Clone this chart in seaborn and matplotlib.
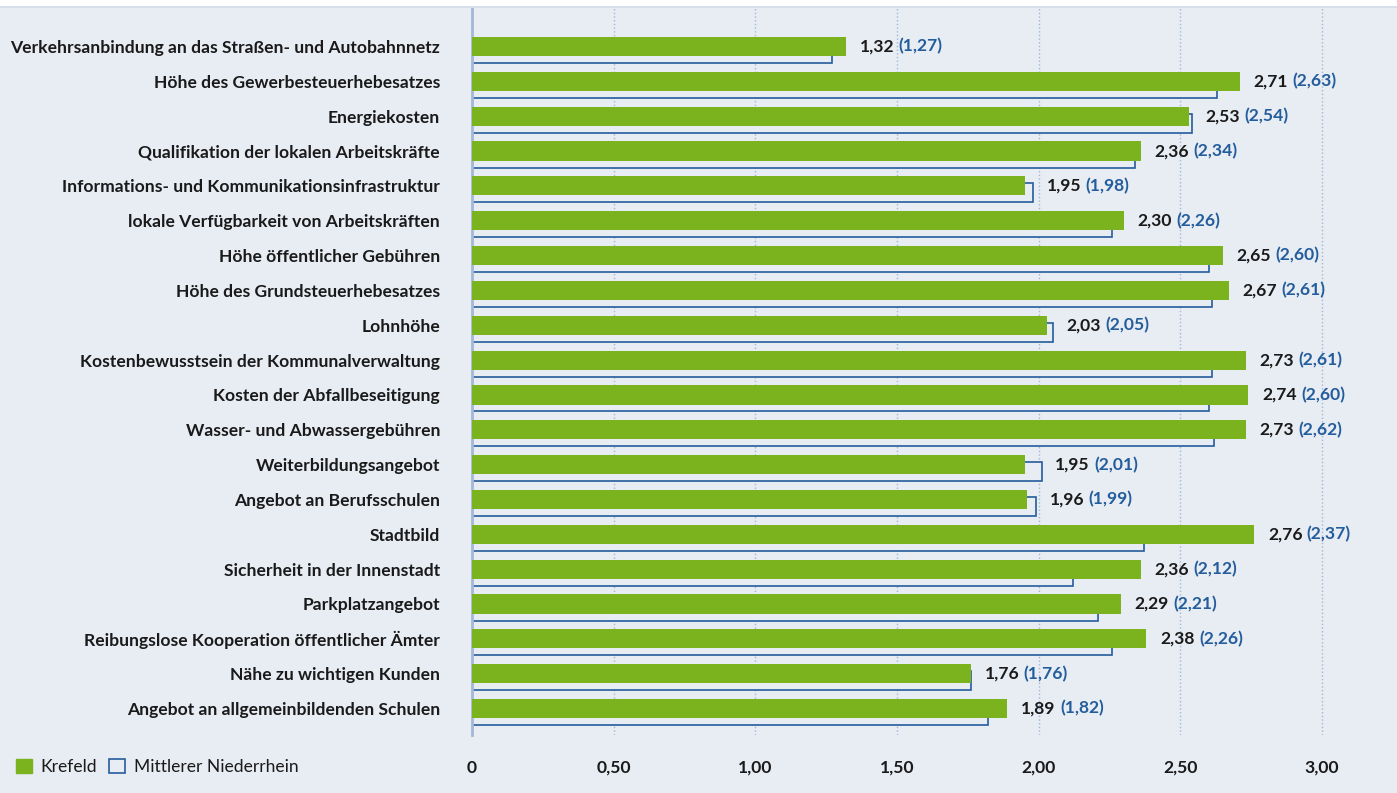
import matplotlib.pyplot as plt
import numpy as np
import seaborn as sns
from matplotlib.patches import Patch, Rectangle

# Data
factors = ['Verkehrsanbindung an das Straßen- und Autobahnnetz',
           'Höhe des Gewerbesteuerhebesatzes',
           'Energiekosten',
           'Qualifikation der lokalen Arbeitskräfte',
           'Informations- und Kommunikationsinfrastruktur',
           'lokale Verfügbarkeit von Arbeitskräften',
           'Höhe öffentlicher Gebühren',
           'Höhe des Grundsteuerhebesatzes',
           'Lohnhöhe',
           'Kostenbewusstsein der Kommunalverwaltung',
           'Kosten der Abfallbeseitigung',
           'Wasser- und Abwassergebühren',
           'Weiterbildungsangebot',
           'Angebot an Berufsschulen',
           'Stadtbild',
           'Sicherheit in der Innenstadt',
           'Parkplatzangebot',
           'Reibungslose Kooperation öffentlicher Ämter',
           'Nähe zu wichtigen Kunden',
           'Angebot an allgemeinbildenden Schulen']
krefeld = [1.32, 2.71, 2.53, 2.36, 1.95, 2.30, 2.65, 2.67, 2.03, 2.73,
           2.74, 2.73, 1.95, 1.96, 2.76, 2.36, 2.29, 2.38, 1.76, 1.89]
niederrhein = [1.27, 2.63, 2.54, 2.34, 1.98, 2.26, 2.60, 2.61, 2.05, 2.61,
               2.60, 2.62, 2.01, 1.99, 2.37, 2.12, 2.21, 2.26, 1.76, 1.82]
xticks = [0, 0.5, 1.0, 1.5, 2.0, 2.5, 3.0]
xticklabels = ['0', '0,50', '1,00', '1,50', '2,00', '2,50', '3,00']

BG = '#e8ecf3'
GREEN = '#7ab31e'
BLUE = '#245d9c'
GRID = '#9fb8d8'

sns.set_theme(style='white')
plt.rcParams['font.family'] = ['Lato', 'DejaVu Sans']

fig = plt.figure(figsize=(13.97, 7.93), dpi=100, facecolor=BG)
ax = fig.add_axes([472 / 1397, 1 - 735 / 793, 1 - 472 / 1397, (735 - 8) / 793])
ax.set_facecolor(BG)

n = len(factors)
pos = np.arange(n)

# outline bars (Mittlerer Niederrhein), shifted a bit down
ax.barh(pos + 0.2, niederrhein, height=0.55, facecolor=BG, edgecolor=BLUE,
        linewidth=1.2, zorder=2)

sns.barplot(x=krefeld, y=factors, orient='h', color=GREEN, width=0.55,
            saturation=1, linewidth=0, ax=ax, zorder=3)

for i, (k, m) in enumerate(zip(krefeld, niederrhein)):
    x0 = max(k, m)
    ax.annotate(f'{k:.2f}'.replace('.', ','), xy=(x0, i), xytext=(10, 0),
                textcoords='offset points', va='center', ha='left',
                fontsize=12.6, fontweight='bold', color='#1a1a1a', zorder=4)
    ax.annotate(f'({m:.2f})'.replace('.', ','), xy=(x0, i), xytext=(38, 0),
                textcoords='offset points', va='center', ha='left',
                fontsize=12.6, fontweight='bold', color=BLUE, zorder=4)

ax.set_xlim(0, (1397 - 472) / (850 / 3.0))
ax.set_ylim(19.76, -1.105)
ax.set_xticks(xticks)
ax.set_xticklabels(xticklabels)
ax.xaxis.grid(True, color=GRID, linestyle=':', linewidth=1, zorder=0)
ax.set_axisbelow(True)
ax.tick_params(axis='x', length=0, pad=18, labelsize=12.6, labelcolor='#1a1a1a')
ax.tick_params(axis='y', length=0, pad=23, labelsize=12.6, labelcolor='#1a1a1a')
for lbl in ax.get_xticklabels() + ax.get_yticklabels():
    lbl.set_fontweight('bold')
ax.set_xlabel('')
ax.set_ylabel('')
for s in ['top', 'right', 'bottom']:
    ax.spines[s].set_visible(False)
ax.spines['left'].set_color('#a3b8d6')
ax.spines['left'].set_linewidth(2)

# white strip at the top
fig.patches.append(Rectangle((0, 1 - 6 / 793), 1, 6 / 793, transform=fig.transFigure,
                             facecolor='white', edgecolor='none'))
fig.patches.append(Rectangle((0, 1 - 8 / 793), 1, 2 / 793, transform=fig.transFigure,
                             facecolor='#d5deea', edgecolor='none'))

handles = [Patch(facecolor=GREEN, edgecolor=GREEN, label='Krefeld'),
           Patch(facecolor=BG, edgecolor=BLUE, linewidth=1.2, label='Mittlerer Niederrhein')]
fig.legend(handles=handles, loc='center left', bbox_to_anchor=(0.0, 1 - 767 / 793),
           ncol=2, frameon=False, fontsize=12.6, handlelength=0.9, handleheight=0.9,
           handletextpad=0.5, columnspacing=0.7, labelcolor='#1a1a1a')

fig.savefig('out.png', dpi=100, facecolor=BG)
